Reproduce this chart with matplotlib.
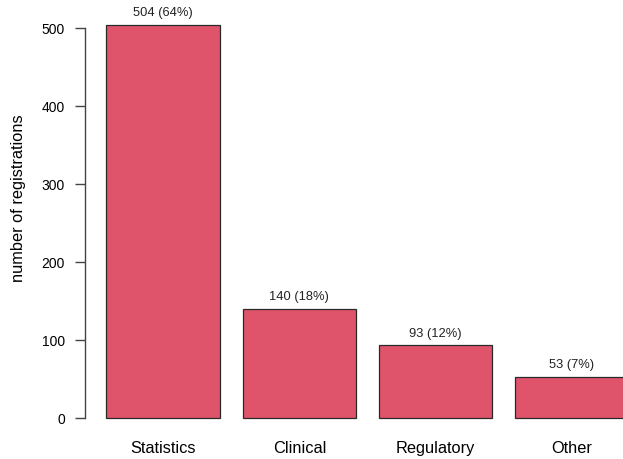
import matplotlib
matplotlib.use('Agg')
import matplotlib.pyplot as plt

plt.rcParams['font.family'] = ['Liberation Sans', 'DejaVu Sans']

categories = ['Statistics', 'Clinical', 'Regulatory', 'Other']
counts = [504, 140, 93, 53]
pct_labels = ['504 (64%)', '140 (18%)', '93 (12%)', '53 (7%)']
y_ticks = [0, 100, 200, 300, 400, 500]

W, H = 623, 459
fig = plt.figure(figsize=(W / 100, H / 100), dpi=100)

# axes placed in pixel terms: left edge at x=83, right edge at figure edge
px_per_unit_x = 113.6
left_px, right_px = 83.5, 623.0
top_px, bot_px = 2.0, 430.0
ax = fig.add_axes([left_px / W, (H - bot_px) / H,
                   (right_px - left_px) / W, (bot_px - top_px) / H])

y_scale = 0.78  # pixels per count
ax.set_xlim(0, (right_px - left_px) / px_per_unit_x)
ax.set_ylim(-(bot_px - 418) / y_scale, (418 - top_px) / y_scale)

centers = [0.2 + 0.5 + i * 1.2 for i in range(len(categories))]
ax.bar(centers, counts, width=1.0, color='#DF536B', edgecolor='#2a2a2a',
       linewidth=0.9)

for c, v, lab in zip(centers, counts, pct_labels):
    ax.text(c, v + 7, lab, ha='center', va='bottom', fontsize=9.3, color='#222222')

ax.set_xticks(centers)
ax.set_xticklabels(categories, fontsize=11.8)
ax.tick_params(axis='x', length=0, pad=8)

ax.set_yticks(y_ticks)
ax.set_yticklabels([str(t) for t in y_ticks], fontsize=11.8)
ax.tick_params(axis='y', length=7, width=1, color='#444444', pad=7.5)

for s in ['top', 'right', 'bottom']:
    ax.spines[s].set_visible(False)
ax.spines['left'].set_bounds(0, 500)
ax.spines['left'].set_position(('data', 0.015))
ax.spines['left'].set_color('#444444')
ax.spines['left'].set_linewidth(1)

ax.set_ylabel('number of registrations', fontsize=11.8)
ax.yaxis.set_label_coords(-(83.5 - 26) / (right_px - left_px),
                          (bot_px - 198) / (bot_px - top_px))

fig.savefig('out.png', dpi=100)
